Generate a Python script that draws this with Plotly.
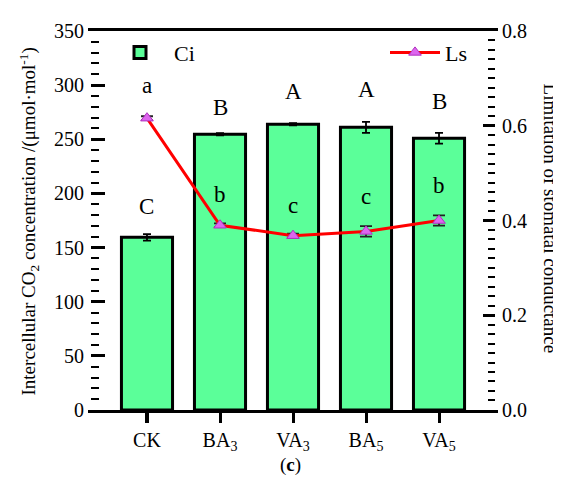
import plotly.graph_objects as go

categories = ["CK", "BA<sub>3</sub>", "VA<sub>3</sub>", "BA<sub>5</sub>", "VA<sub>5</sub>"]
ci_values = [159.5, 254.7, 263.8, 261.0, 251.0]
ci_errors = [3.0, 1.0, 1.0, 5.0, 5.0]
ls_values = [0.616, 0.390, 0.368, 0.377, 0.400]
ls_errors = [0.004, 0.004, 0.004, 0.011, 0.011]
ci_letters = ["C", "B", "A", "A", "B"]
ci_letter_y = [188, 279, 294, 296, 285]
ls_letters = ["a", "b", "c", "c", "b"]
ls_letter_y = [300, 199, 189, 197, 207]
left_major = [0, 50, 100, 150, 200, 250, 300, 350]
right_major = [0.0, 0.2, 0.4, 0.6, 0.8]

FONT = "Liberation Serif"
xpos = list(range(len(categories)))

OFF = 8
W, H = 561 - OFF, 483 - OFF
L, R, T, B = 91 - OFF, 495 - OFF, 24 - OFF, 410 - OFF
PW, PH = R - L, B - T

fig = go.Figure()
fig.add_trace(go.Bar(
    x=xpos, y=ci_values, name="Ci", width=0.7,
    marker=dict(color="#5BFF99", line=dict(color="black", width=3)),
    error_y=dict(type="data", array=ci_errors, color="black", thickness=1.8, width=4),
    legend="legend", showlegend=True,
))
fig.add_trace(go.Scatter(
    x=xpos, y=ls_values, name="Ls", yaxis="y2", mode="lines+markers",
    line=dict(color="#FF0000", width=3),
    marker=dict(symbol="triangle-up", size=11, color="#DD66EE", line=dict(color="#B030C0", width=1)),
    error_y=dict(type="data", array=ls_errors, color="#222222", thickness=1.8, width=6),
    legend="legend2", showlegend=True,
))

annotations = []
for i in range(len(categories)):
    annotations.append(dict(x=i, y=ci_letter_y[i], xref="x", yref="y", text=ci_letters[i],
                            showarrow=False, font=dict(family=FONT, size=23, color="black")))
    annotations.append(dict(x=i, y=ls_letter_y[i], xref="x", yref="y", text=ls_letters[i],
                            showarrow=False, font=dict(family=FONT, size=23, color="black")))

def px_to_paper(px, py):
    return (px - OFF - L) / PW, 1 - (py - OFF - T) / PH

for px, py, txt, ang in [
    (29, 218, "Intercellular CO<sub>2</sub> concentration /(μmol·mol<sup>-1</sup>)", -90),
    (550, 215, "Limitation of stomatal conductance", 90),
    (290, 466, "(<b>c</b>)", 0),
]:
    ax, ay = px_to_paper(px, py)
    annotations.append(dict(x=ax, y=ay, xref="paper", yref="paper", text=txt, xanchor="center",
                            yanchor="middle", showarrow=False, textangle=ang,
                            font=dict(family=FONT, size=19, color="black")))

lx1, ly = px_to_paper(106, 46)
lx2, _ = px_to_paper(385, 46)

fig.update_layout(
    width=W, height=H,
    margin=dict(l=L, r=W - R, t=T, b=H - B),
    plot_bgcolor="white",
    font=dict(family=FONT, size=20, color="black"),
    xaxis=dict(
        range=[-0.767, 4.767], tickmode="array", tickvals=xpos, ticktext=categories,
        ticks="outside", ticklen=10, tickwidth=2.5, tickcolor="black",
        minor=dict(ticks="outside", ticklen=10, tickwidth=2.5, dtick=1, tick0=0.001, tickcolor="black"),
        showline=True, linewidth=3, linecolor="black", mirror=True, showgrid=False,
    ),
    yaxis=dict(
        range=[0, 350], tickvals=left_major,
        ticks="inside", ticklen=14, tickwidth=2.5, tickcolor="black", showline=True, linewidth=3,
        minor=dict(ticks="inside", ticklen=8, tickwidth=2, dtick=10, tick0=0.01, tickcolor="black"),
    ),
    yaxis2=dict(
        range=[0, 0.8], tickvals=right_major, tickformat=".1f", overlaying="y", side="right",
        ticks="inside", ticklen=12, tickwidth=2.5, tickcolor="black", showline=True, linewidth=3,
        showgrid=False, zeroline=False,
        minor=dict(ticks="inside", ticklen=7, tickwidth=2, dtick=0.02, tick0=0.0002, tickcolor="black"),
    ),
    legend=dict(x=lx1, y=ly, xanchor="left", yanchor="middle", bgcolor="rgba(0,0,0,0)",
                font=dict(family=FONT, size=22), itemwidth=58),
    legend2=dict(x=lx2, y=ly, xanchor="left", yanchor="middle", bgcolor="rgba(0,0,0,0)",
                 font=dict(family=FONT, size=22), itemwidth=50),
    annotations=annotations,
)

fig.write_html("out.html")
